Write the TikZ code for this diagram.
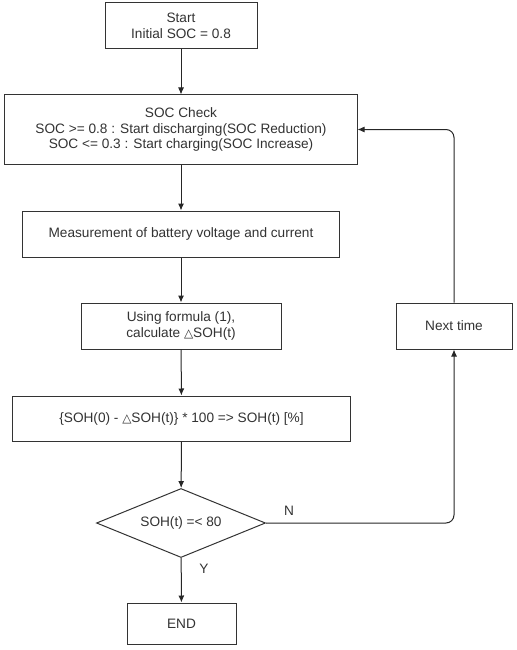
\documentclass[tikz,border=0pt]{standalone}
\usepackage{fontspec}
\setmainfont{Liberation Sans}
\newfontfamily\symfont{DejaVu Sans}
\usetikzlibrary{shapes.geometric,arrows.meta}
\begin{document}
\begin{tikzpicture}[x=1bp,y=-1bp,
  every node/.style={font=\fontsize{13.7}{16}\selectfont, text=black!80},
  box/.style={draw=black!80, line width=1bp, fill=white, align=center, inner sep=0pt},
  conn/.style={draw=black!85, line width=1bp, -{Latex[length=7bp,width=6bp]}},
  lbl/.style={inner sep=0pt}
]
\useasboundingbox (0,0) rectangle (517,650);
\newcommand{\tri}{{\symfont\fontsize{12}{14}\selectfont △}}
\node[box, minimum width=152bp, minimum height=46bp] (start) at (181,26) {Start\\Initial SOC = 0.8};
\node[box, minimum width=352bp, minimum height=69bp] (soc) at (181,129.5) {SOC Check\\SOC >= 0.8 : Start discharging(SOC Reduction)\\SOC <= 0.3 : Start charging(SOC Increase)};
\node[box, minimum width=316bp, minimum height=46bp] (meas) at (181,234) {Measurement of battery voltage and current};
\node[box, minimum width=200bp, minimum height=46bp] (calc) at (181,326) {Using formula (1),\\calculate \tri SOH(t)};
\node[box, minimum width=116bp, minimum height=46bp] (next) at (454,326) {Next time};
\node[box, minimum width=337bp, minimum height=45bp] (soh) at (181.5,418.5) {\{SOH(0) - \tri SOH(t)\} * 100 => SOH(t) [\%]};
\node[draw=black!80, line width=1bp, fill=white, diamond, aspect=2.45, inner sep=0pt, minimum width=169bp, minimum height=69bp] (dec) at (181,523) {SOH(t) =< 80};
\node[box, minimum width=109bp, minimum height=41bp] (end) at (181.5,623.5) {END};
\draw[conn] (start) -- (soc);
\draw[conn] (soc) -- (meas);
\draw[conn] (meas) -- (calc);
\draw[conn] (calc) -- (soh);
\draw[conn] (soh) -- (dec);
\draw[conn] (dec) -- (end);
\draw[conn, rounded corners=8bp] (dec.east) -| (next.south);
\draw[conn, rounded corners=8bp] (next.north) |- (soc.east);
\node[lbl] (nlab) at (289,511) {N};
\node[lbl] (ylab) at (204,569) {Y};
\end{tikzpicture}
\end{document}
